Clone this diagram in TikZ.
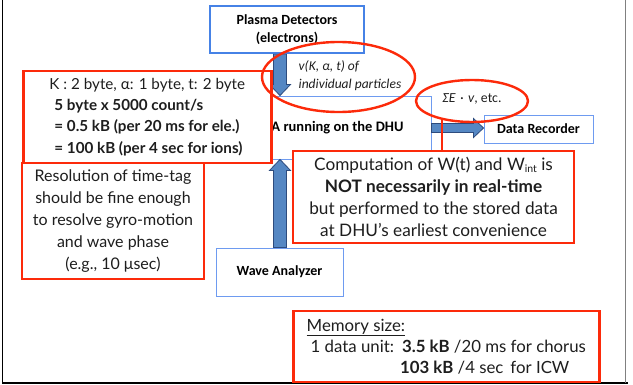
\documentclass[tikz,border=0pt]{standalone}
\usepackage{fontspec}
\setmainfont{Carlito}
\newfontfamily\opt{Lato}
\usetikzlibrary{shapes.geometric,calc}
\definecolor{rd}{RGB}{252,42,10}
\definecolor{bthick}{RGB}{70,130,230}
\definecolor{bthin}{RGB}{110,155,240}
\definecolor{afill}{RGB}{85,135,195}
\definecolor{aline}{RGB}{45,75,125}
\definecolor{txt}{RGB}{30,30,30}
\tikzset{
  redbox/.style={draw=rd, line width=2.6pt, fill=white, inner sep=0pt, text=txt},
  thinbox/.style={draw=bthin, line width=0.9pt, fill=white, inner sep=0pt, font=\fontsize{14}{16}\selectfont\bfseries},
  thickbox/.style={draw=bthick, line width=2.6pt, fill=white, inner sep=0pt, font=\fontsize{14}{17.5}\selectfont\bfseries},
  redell/.style={draw=rd, line width=2.4pt, ellipse, inner sep=0pt},
  blockarr/.style={fill=afill, draw=aline, line width=0.8pt, line join=miter},
}
\begin{document}
\begin{tikzpicture}[x=1pt,y=-1pt]
\useasboundingbox (0,0) rectangle (633,385);
% frame
\draw[black, line width=1.5pt] (2.5,0) -- (2.5,383.2) -- (628,383.2);
\draw[gray, line width=1.5pt] (625.5,0) -- (625.5,383.2);
% blue boxes
\node[thinbox, minimum width=187pt, minimum height=63pt, font=\fontsize{14.5}{16}\selectfont\bfseries] (dhu) at (337.5,127.5) {A running on the DHU};
\node[thinbox, minimum width=109pt, minimum height=28pt] (rec) at (538.5,129) {Data Recorder};
\node[thinbox, minimum width=127pt, minimum height=48pt] (wave) at (279.5,272) {Wave Analyzer};
\node[thickbox, minimum width=154pt, minimum height=47pt, align=center] (pd) at (287,29.5) {Plasma Detectors\\(electrons)};
% block arrows
\coordinate (a1s) at (pd.south -| 280,0);
\coordinate (a1e) at (dhu.north -| 280,0);
\filldraw[blockarr] ($(a1s)+(-6.5,0)$) -- ($(a1s)+(6.5,0)$) -- ($(a1e)+(6.5,-11)$) -- ($(a1e)+(10.5,-11)$) -- (a1e) -- ($(a1e)+(-10.5,-11)$) -- ($(a1e)+(-6.5,-11)$) -- cycle;
\coordinate (a2s) at (wave.north -| 280,0);
\coordinate (a2e) at (dhu.south -| 280,0);
\filldraw[blockarr] ($(a2s)+(-6.5,0)$) -- ($(a2s)+(6.5,0)$) -- ($(a2e)+(6.5,11)$) -- ($(a2e)+(10.5,11)$) -- (a2e) -- ($(a2e)+(-10.5,11)$) -- ($(a2e)+(-6.5,11)$) -- cycle;
\coordinate (a3s) at (dhu.east |- 0,128);
\coordinate (a3e) at (rec.west |- 0,128);
\filldraw[blockarr] ($(a3s)+(0,-4.5)$) -- ($(a3e)+(-10,-4.5)$) -- ($(a3e)+(-10,-9.5)$) -- (a3e) -- ($(a3e)+(-10,9.5)$) -- ($(a3e)+(-10,4.5)$) -- ($(a3s)+(0,4.5)$) -- cycle;
% red boxes
\node[redbox, minimum width=248pt, minimum height=92pt, align=left, font=\opt\fontsize{15.2}{21.3}\selectfont, anchor=west, inner xsep=8pt] (kb) at (22,117) {K : 2 byte, α: 1 byte, t: 2 byte\\
\hspace{5pt}\textbf{5 byte x 5000 count/s}\\
\hspace{5pt}\textbf{= 0.5 kB (per 20 ms for ele.)}\\
\hspace{5pt}\textbf{= 100 kB (per 4 sec for ions)}};
\node[redbox, minimum width=182pt, minimum height=116pt, align=center, font=\opt\fontsize{16}{22}\selectfont] (res) at (113,221) {Resolution of time-tag\\should be fine enough\\to resolve gyro-motion\\and wave phase\\(e.g., 10 μsec)};
\node[redbox, minimum width=281pt, minimum height=92pt, align=center, font=\opt\fontsize{17.2}{22}\selectfont] (comp) at (433.5,197) {Computation of W(t) and W{\fontsize{10.5}{10}\selectfont\raisebox{-1.5pt}{int}} is\\
\textbf{NOT necessarily in real-time}\\
but performed to the stored data\\
at DHU’s earliest convenience};
\node[redbox, minimum width=306pt, minimum height=71pt, align=left, anchor=west, inner xsep=9pt, font=\opt\fontsize{16.8}{21}\selectfont] (mem) at (292,346.5) {\underline{Memory size:}\\
\hspace{4pt}1 data unit:\hspace{8pt}\textbf{3.5 kB} /20 ms for chorus\\
\hspace{4pt}\phantom{1 data unit:}\hspace{6pt}\textbf{103 kB} /4 sec\hspace{7pt}for ICW};
% ellipses
\node[redell, minimum width=153pt, minimum height=70pt] (e1) at (338.5,77) {};
\node[inner sep=0pt, align=left, font=\fontsize{13.5}{18}\selectfont\itshape, text=txt] (e1t) at (350,76) {v(K, α, t) of\\individual particles};
\node[redell, minimum width=112pt, minimum height=42pt] (e2) at (472,101) {};
\node[inner sep=0pt, font=\fontsize{13.8}{16}\selectfont, text=txt] (e2t) at (472,99) {\textit{ΣE\,\,·\,\,v}, etc.};
\coordinate (lk) at (442,119);
\draw[rd, line width=2pt] (lk) -- (lk |- comp.north);
\end{tikzpicture}
\end{document}
